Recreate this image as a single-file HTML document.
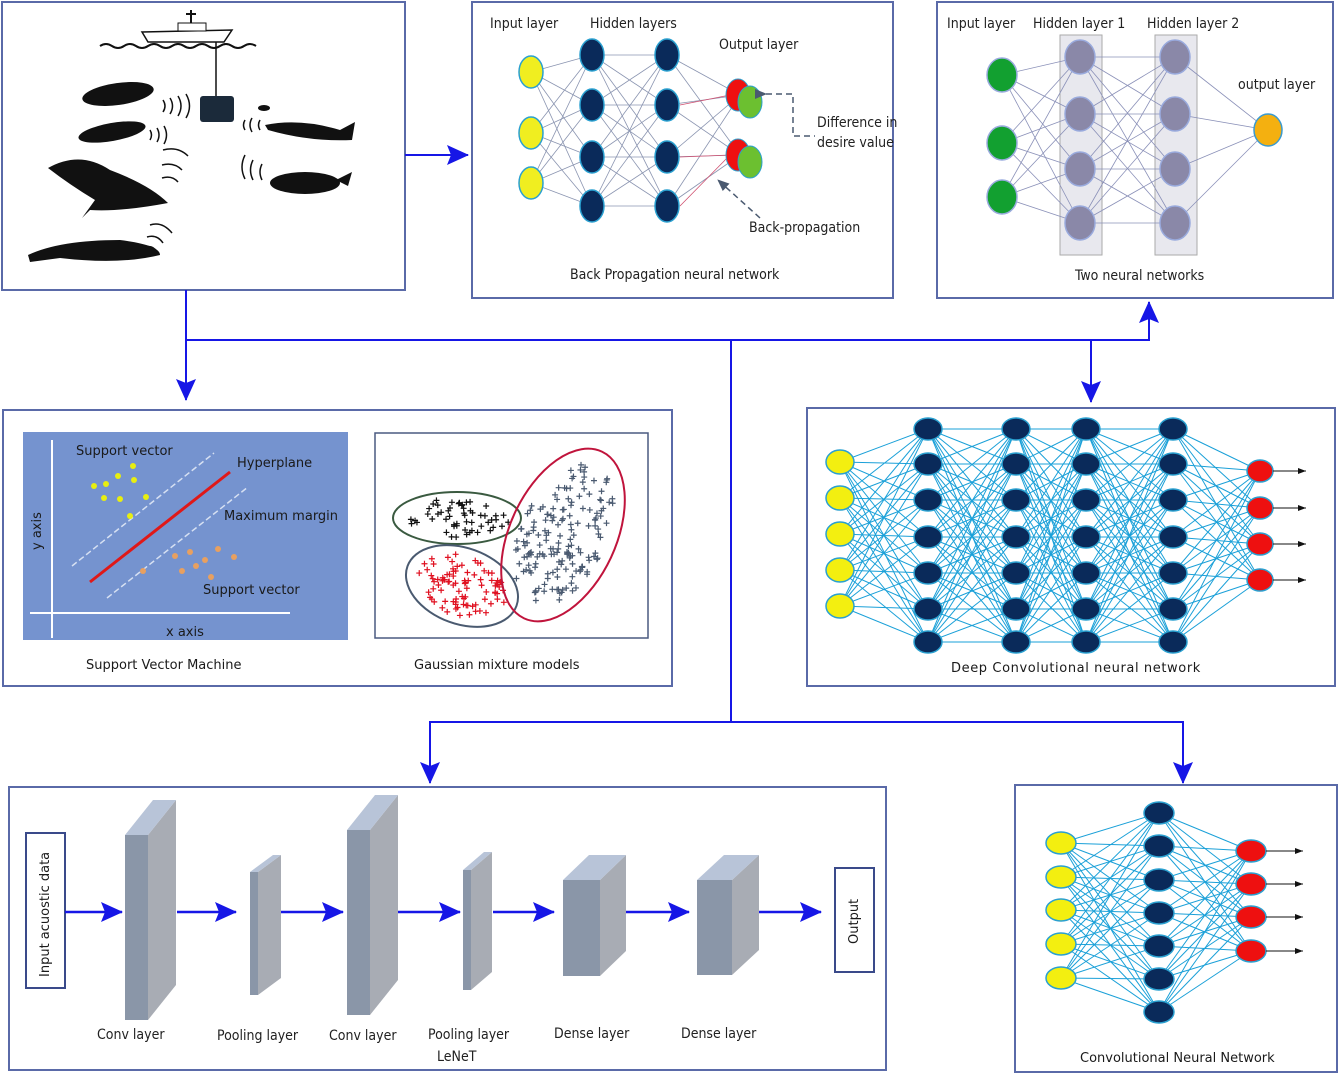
<!DOCTYPE html>
<html><head><meta charset="utf-8">
<style>
html,body{margin:0;padding:0;background:#fff;}
svg{display:block;font-family:"DejaVu Sans","Liberation Sans",sans-serif;}
.c{font-family:"DejaVu Sans Condensed","DejaVu Sans",sans-serif;}
</style></head><body>
<svg id="s" width="1338" height="1073" viewBox="0 0 1338 1073" xmlns="http://www.w3.org/2000/svg">
<defs>
<marker id="ab" markerWidth="10" markerHeight="10" refX="9" refY="5" orient="auto" markerUnits="userSpaceOnUse"><path d="M0,0 L10,5 L0,10 z" fill="#1616e6"/></marker>
<marker id="ab2" markerWidth="22" markerHeight="20" refX="21" refY="10" orient="auto" markerUnits="userSpaceOnUse"><path d="M0,0 L22,10 L0,20 L4,10 z" fill="#1616e6"/></marker>
<marker id="ak" markerWidth="8" markerHeight="6" refX="8" refY="3" orient="auto" markerUnits="userSpaceOnUse"><path d="M0,0 L8,3 L0,6 z" fill="#111"/></marker>
<marker id="ag" markerWidth="12" markerHeight="10" refX="11" refY="5" orient="auto" markerUnits="userSpaceOnUse"><path d="M0,0 L12,5 L0,10 z" fill="#4a5a70"/></marker>
</defs>
<g fill="none" stroke="#5a6aa8" stroke-width="2">
<rect x="2" y="2" width="403" height="288"/>
<rect x="472" y="2" width="421" height="296"/>
<rect x="937" y="2" width="396" height="296"/>
<rect x="3" y="410" width="669" height="276"/>
<rect x="807" y="408" width="528" height="278"/>
<rect x="9" y="787" width="877" height="283"/>
<rect x="1015" y="785" width="322" height="287"/>
</g>
<g stroke="#1616e6" stroke-width="2" fill="none">
<line x1="405" y1="155" x2="468" y2="155" marker-end="url(#ab2)"/>
<polyline points="186,290 186,340 1149,340 1149,302" />
<line x1="1149" y1="320" x2="1149" y2="302" marker-end="url(#ab2)"/>
<line x1="186" y1="340" x2="186" y2="400" marker-end="url(#ab2)"/>
<line x1="1091" y1="340" x2="1091" y2="402" marker-end="url(#ab2)"/>
<polyline points="731,340 731,722 430,722 430,783" marker-end="url(#ab2)"/>
<polyline points="731,722 1183,722 1183,783" marker-end="url(#ab2)"/>
</g>
<g id="dyn"></g>
<g>
<path d="M100,46 q6,-4 12,0 t12,0 t12,0 t12,0 t12,0 t12,0 t12,0 t12,0 t12,0 t12,0 t12,0 t12,0 t12,0" stroke="#111" stroke-width="2" fill="none"/>
<path d="M142,32 L232,30 L224,42 L148,42 z" fill="#fff" stroke="#111" stroke-width="1.5"/>
<rect x="178" y="23" width="28" height="8" fill="#fff" stroke="#111"/>
<line x1="191" y1="10" x2="191" y2="23" stroke="#111" stroke-width="2"/>
<line x1="186" y1="14" x2="196" y2="14" stroke="#111" stroke-width="2"/>
<line x1="216" y1="42" x2="216" y2="96" stroke="#111" stroke-width="1.5"/>
<rect x="200" y="96" width="34" height="26" rx="3" fill="#1b2a3a"/>
<ellipse cx="118" cy="94" rx="36" ry="11" fill="#111" transform="rotate(-8 118 94)"/>
<ellipse cx="112" cy="132" rx="34" ry="9" fill="#111" transform="rotate(-10 112 132)"/>
<path d="M48,168 Q80,150 110,170 Q150,185 168,203 Q120,212 90,210 L82,218 L95,200 Q70,185 48,168z" fill="#111"/>
<path d="M28,255 Q60,240 120,240 Q160,245 160,255 Q120,265 60,258 L30,262z" fill="#111"/>
<path d="M265,125 Q300,118 340,130 L355,122 L352,140 Q310,142 268,130z" fill="#111"/>
<ellipse cx="305" cy="183" rx="35" ry="11" fill="#111"/>
<path d="M336,180 L352,172 L348,186z" fill="#111"/>
<ellipse cx="264" cy="108" rx="6" ry="3" fill="#111"/>
<g stroke="#111" stroke-width="1.5" fill="none">
<path d="M163,100 q4,6 0,12 M170,98 q5,8 0,16 M178,96 q6,10 0,20 M186,94 q7,12 0,24"/>
<path d="M150,130 q3,5 0,10 M157,128 q4,7 0,14 M164,126 q5,9 0,18"/>
<path d="M163,150 q15,-4 25,6 M162,165 q12,-3 20,5 M162,178 q10,-3 16,4"/>
<path d="M150,225 q12,-4 22,8 M147,237 q10,-3 16,6 M145,247 q8,-2 12,5"/>
<path d="M245,120 q-3,5 0,10 M252,118 q-4,7 0,14 M260,120 q-3,5 0,10"/>
<path d="M245,155 q-6,12 0,24 M253,160 q-5,10 0,20 M262,164 q-4,8 0,16"/>
</g>
</g>
<g class="c" font-size="14" fill="#222">
<text x="490" y="28">Input layer</text>
<text x="590" y="28">Hidden layers</text>
<text x="719" y="49">Output layer</text>
<text x="817" y="127">Difference in</text>
<text x="817" y="147">desire value</text>
<text x="749" y="232">Back-propagation</text>
<text x="570" y="279">Back Propagation neural network</text>
<text x="947" y="28">Input layer</text>
<text x="1033" y="28">Hidden layer 1</text>
<text x="1147" y="28">Hidden layer 2</text>
<text x="1238" y="89">output layer</text>
<text x="1075" y="280">Two neural networks</text>
<text x="97" y="1039">Conv layer</text>
<text x="217" y="1040">Pooling layer</text>
<text x="329" y="1040">Conv layer</text>
<text x="428" y="1039">Pooling layer</text>
<text x="554" y="1038">Dense layer</text>
<text x="681" y="1038">Dense layer</text>
<text x="437" y="1061">LeNeT</text>
</g>
<g stroke="#4a5a70" stroke-width="1.5" fill="none" stroke-dasharray="6,4">
<polyline points="766,94 793,94 793,136 815,136" marker-start="url(#ag)"/>
<line x1="760" y1="218" x2="718" y2="180" marker-end="url(#ag)"/>
</g>
<rect x="23" y="432" width="325" height="208" fill="#7593cf"/>
<g stroke="#fff" stroke-width="2"><line x1="52" y1="638" x2="52" y2="440"/><line x1="30" y1="613" x2="290" y2="613"/></g>
<g stroke="#d6e0f2" stroke-width="1.5" stroke-dasharray="6,3"><line x1="72" y1="566" x2="214" y2="453"/><line x1="107" y1="598" x2="248" y2="487"/></g>
<line x1="90" y1="582" x2="230" y2="472" stroke="#e01818" stroke-width="3"/>
<g fill="#e8ee10"><circle cx="94" cy="486" r="3"/><circle cx="106" cy="484" r="3"/><circle cx="118" cy="476" r="3"/><circle cx="133" cy="466" r="3"/><circle cx="134" cy="480" r="3"/><circle cx="104" cy="498" r="3"/><circle cx="120" cy="499" r="3"/><circle cx="146" cy="497" r="3"/><circle cx="130" cy="516" r="3"/></g>
<g fill="#e8a060"><circle cx="175" cy="556" r="3"/><circle cx="190" cy="552" r="3"/><circle cx="218" cy="549" r="3"/><circle cx="234" cy="557" r="3"/><circle cx="196" cy="566" r="3"/><circle cx="182" cy="571" r="3"/><circle cx="211" cy="577" r="3"/><circle cx="143" cy="571" r="3"/><circle cx="205" cy="560" r="3"/></g>
<rect x="375" y="433" width="273" height="205" fill="#fff" stroke="#4a5a80" stroke-width="1.5"/>
<g id="gmm"></g>
<ellipse cx="457" cy="518" rx="64" ry="26" fill="none" stroke="#3a5a40" stroke-width="2"/>
<ellipse cx="462" cy="586" rx="58" ry="38" fill="none" stroke="#4a5a70" stroke-width="2" transform="rotate(20 462 586)"/>
<ellipse cx="563" cy="535" rx="53" ry="92" fill="none" stroke="#c0143c" stroke-width="2" transform="rotate(25 563 535)"/>
<rect x="26" y="833" width="39" height="155" fill="#fff" stroke="#3a4a8a" stroke-width="2"/>
<rect x="835" y="868" width="39" height="104" fill="#fff" stroke="#3a4a8a" stroke-width="2"/>
<g id="blocks"></g>
<g stroke="#1616e6" stroke-width="2.5">
<line x1="65" y1="912" x2="122" y2="912" marker-end="url(#ab2)"/>
<line x1="177" y1="912" x2="236" y2="912" marker-end="url(#ab2)"/>
<line x1="281" y1="912" x2="343" y2="912" marker-end="url(#ab2)"/>
<line x1="398" y1="912" x2="460" y2="912" marker-end="url(#ab2)"/>
<line x1="493" y1="912" x2="554" y2="912" marker-end="url(#ab2)"/>
<line x1="626" y1="912" x2="689" y2="912" marker-end="url(#ab2)"/>
<line x1="759" y1="912" x2="821" y2="912" marker-end="url(#ab2)"/>
</g>
<g font-size="13" fill="#1a1a1a">
<text x="76" y="455">Support vector</text><text x="237" y="467">Hyperplane</text><text x="224" y="520">Maximum margin</text><text x="203" y="594">Support vector</text><text x="166" y="636">x axis</text>
<text transform="translate(41,550) rotate(-90)">y axis</text>
<text x="86" y="669">Support Vector Machine</text><text x="414" y="669">Gaussian mixture models</text>
<text transform="translate(858,944) rotate(-90)">Output</text>
<text transform="translate(49,977) rotate(-90)">Input acuostic data</text>
<text x="951" y="672" letter-spacing="0.6">Deep Convolutional neural network</text>
<text x="1080" y="1062">Convolutional Neural Network</text>
</g>
</svg>
<script>
var NS="http://www.w3.org/2000/svg";
function el(p,t,a){var e=document.createElementNS(NS,t);for(var k in a)e.setAttribute(k,a[k]);p.appendChild(e);return e;}
var d=document.getElementById("dyn");
function net(cols,col,w,ec){
 for(var i=0;i<cols.length-1;i++){var A=cols[i],B=cols[i+1];
  A.ys.forEach(function(y1){B.ys.forEach(function(y2){el(d,"line",{x1:A.x,y1:y1,x2:B.x,y2:y2,stroke:ec,"stroke-width":w});});});}
}
function nodes(x,ys,rx,ry,fill,st){ys.forEach(function(y){el(d,"ellipse",{cx:x,cy:y,rx:rx,ry:ry,fill:fill,stroke:st,"stroke-width":1.5});});}
var h7=[429,464,500,537,573,609,642];
var dc=[{x:840,ys:[462,498,534,570,606]},{x:928,ys:h7},{x:1016,ys:h7},{x:1086,ys:h7},{x:1173,ys:h7},{x:1260,ys:[471,508,544,580]}];
net(dc,0,1,"#1aa0d8");
dc.forEach(function(c,i){if(i==0)nodes(c.x,c.ys,14,12,"#f3ef10","#2aa0d0");else if(i==5)nodes(c.x,c.ys,13,11,"#ee1010","#2aa0d0");else nodes(c.x,c.ys,14,11,"#0a2a5a","#2aa0d0");});
[471,508,544,580].forEach(function(y){el(d,"line",{x1:1273,y1:y,x2:1306,y2:y,stroke:"#111","stroke-width":1,"marker-end":"url(#ak)"});});
var s7=[813,846,880,913,946,979,1012];
var sc=[{x:1061,ys:[843,877,910,944,978]},{x:1159,ys:s7},{x:1251,ys:[851,884,917,951]}];
net(sc,0,1,"#1aa0d8");
nodes(1061,sc[0].ys,15,11,"#f3ef10","#2aa0d0");nodes(1159,s7,15,11,"#0a2a5a","#2aa0d0");nodes(1251,sc[2].ys,15,11,"#ee1010","#2aa0d0");
[851,884,917,951].forEach(function(y){el(d,"line",{x1:1266,y1:y,x2:1303,y2:y,stroke:"#111","stroke-width":1,"marker-end":"url(#ak)"});});
el(d,"rect",{x:1060,y:35,width:42,height:220,fill:"#e8e8ee",stroke:"#aaa"});
el(d,"rect",{x:1155,y:35,width:42,height:220,fill:"#e8e8ee",stroke:"#aaa"});
var h4=[57,114,169,223];
var tc=[{x:1002,ys:[75,143,197]},{x:1080,ys:h4},{x:1175,ys:h4},{x:1268,ys:[130]}];
net(tc,0,0.8,"#8a90b8");
nodes(1002,tc[0].ys,15,17,"#12a030","#9ad");nodes(1080,h4,15,17,"#8a88a8","#9ad");nodes(1175,h4,15,17,"#8a88a8","#9ad");nodes(1268,[130],14,16,"#f4b010","#3a9ad0");
var b4=[55,105,157,206];
var bc=[{x:531,ys:[72,133,183]},{x:592,ys:b4},{x:667,ys:b4},{x:740,ys:[95,155]}];
net(bc,0,0.8,"#8a94b0");
[105,157,206].forEach(function(y){el(d,"line",{x1:680,y1:y,x2:730,y2:y<150?95:155,stroke:"#d05070","stroke-width":0.8});});
nodes(531,bc[0].ys,12,16,"#f0ee20","#2aa0d0");nodes(592,b4,12,16,"#0a2a5a","#2aa0d0");nodes(667,b4,12,16,"#0a2a5a","#2aa0d0");
[[95],[155]].forEach(function(a){var y=a[0];el(d,"ellipse",{cx:738,cy:y,rx:12,ry:16,fill:"#ee1010",stroke:"#2aa0d0"});el(d,"ellipse",{cx:750,cy:y+7,rx:12,ry:16,fill:"#6cc030",stroke:"#2aa0d0"});});
var g=document.getElementById("gmm");
function rnd(s){var x=Math.sin(s)*10000;return x-Math.floor(x);}
function plus(cx,cy,rx,ry,rot,n,col,seed){var r=rot*Math.PI/180;for(var i=0;i<n;i++){var a=rnd(seed+i)*6.283,t=Math.sqrt(rnd(seed+i+500))*0.88;var px=Math.cos(a)*rx*t,py=Math.sin(a)*ry*t;var X=cx+px*Math.cos(r)-py*Math.sin(r),Y=cy+px*Math.sin(r)+py*Math.cos(r);
 el(g,"path",{d:"M"+(X-3)+","+Y+"h6M"+X+","+(Y-3)+"v6",stroke:col,"stroke-width":1.2});}}
plus(457,518,60,22,0,55,"#111",1);
plus(462,586,54,34,20,90,"#e01020",100);
plus(563,535,48,86,25,170,"#4a5a70",300);
var B=document.getElementById("blocks");
function blk(x1,x2,yt,yb,dx,dy){
 el(B,"polygon",{points:x2+","+yt+" "+(x2+dx)+","+(yt-dy)+" "+(x2+dx)+","+(yb-dy)+" "+x2+","+yb,fill:"#a8acb4"});
 el(B,"polygon",{points:x1+","+yt+" "+(x1+dx)+","+(yt-dy)+" "+(x2+dx)+","+(yt-dy)+" "+x2+","+yt,fill:"#b8c4d8"});
 el(B,"rect",{x:x1,y:yt,width:x2-x1,height:yb-yt,fill:"#8a96a8"});
}
blk(125,148,835,1020,28,35);
blk(250,258,872,995,23,17);
blk(347,370,830,1015,28,35);
blk(463,471,870,990,21,18);
blk(563,600,880,976,26,25);
blk(697,732,880,975,27,25);
</script>
</body></html>
